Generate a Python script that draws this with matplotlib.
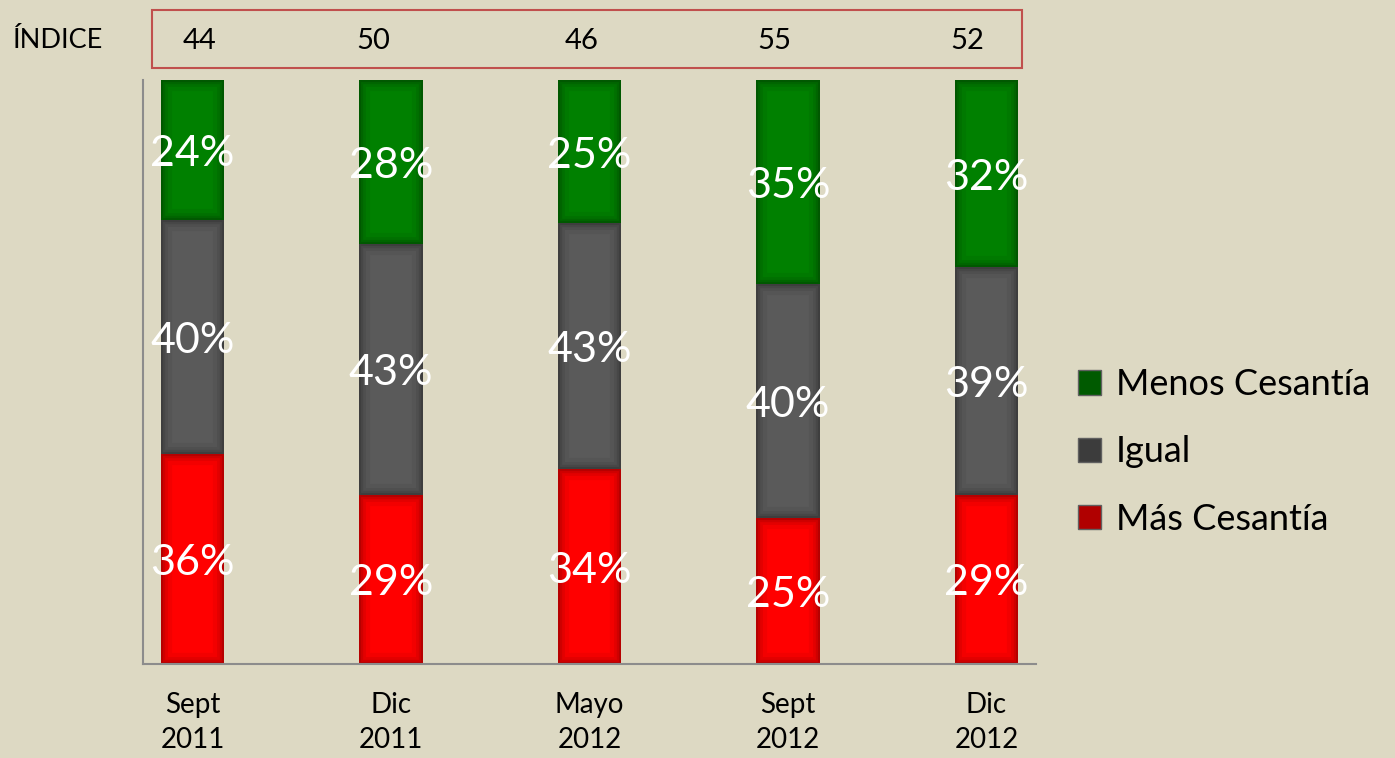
import matplotlib
matplotlib.use("Agg")
import matplotlib.pyplot as plt
import numpy as np
from matplotlib.patches import Rectangle, Patch

plt.rcParams['font.family'] = ['Lato', 'DejaVu Sans']

categories = ["Sept\n2011", "Dic\n2011", "Mayo\n2012", "Sept\n2012", "Dic\n2012"]
mas_cesantia = [36, 29, 34, 25, 29]
igual = [40, 43, 43, 40, 39]
menos_cesantia = [24, 28, 25, 35, 32]
indice = [44, 50, 46, 55, 52]
indice_x_px = [200, 373, 582, 774, 967]  # layout positions of the index cells

bg = "#DDD9C3"
W, H = 1395, 758
fig = plt.figure(figsize=(13.95, 7.58), dpi=100, facecolor=bg)
ax = fig.add_axes([143/W, 1-664/H, (1036-143)/W, (664-80)/H])
ax.set_facecolor(bg)

x = np.arange(len(categories))
m = np.array(mas_cesantia, float)
g = np.array(igual, float)
v = np.array(menos_cesantia, float)
tot = m + g + v
mn, gn, vn = m/tot*100, g/tot*100, v/tot*100

w = 0.32
series = [
    (mn, mas_cesantia, np.zeros(5), "#FF0000", "#8A0000"),
    (gn, igual, mn, "#5A5A5A", "#2E2E2E"),
    (vn, menos_cesantia, mn+gn, "#008000", "#004200"),
]
for vals, raw, bottom, col, ec in series:
    bars = ax.bar(x, vals, w, bottom=bottom, color=col, edgecolor='none', zorder=2)
    # inner shadow effect
    for lw, a in [(16, 0.10), (10, 0.15), (6, 0.22), (3, 0.35)]:
        edges = ax.bar(x, vals, w, bottom=bottom, fill=False, edgecolor=ec, linewidth=lw, alpha=a, zorder=2.1)
        for e, b in zip(edges, bars):
            e.set_clip_path(b)
    for xi, b, h, r in zip(x, bottom, vals, raw):
        ax.annotate(f"{r}%", xy=(xi, b + h/2), xytext=(0, -3), textcoords='offset points',
                    ha='center', va='center', color='white', fontsize=31, zorder=3)

ax.set_xlim(-0.25, 4.25)
ax.set_ylim(0, 100)
ax.set_yticks([])
ax.set_xticks([])
for s in ['top', 'right']:
    ax.spines[s].set_visible(False)
for s in ['left', 'bottom']:
    ax.spines[s].set_color('#8C8C8C')
    ax.spines[s].set_linewidth(1.5)

# category labels
for xi, c in zip(x, categories):
    ax.annotate(c, xy=(xi, 0), xycoords='data', xytext=(0, -20), textcoords='offset points',
                ha='center', va='top', fontsize=20, linespacing=1.45, color='black')

# index row
for px, iv in zip(indice_x_px, indice):
    fig.text(px/W, 1-41/H, str(iv), ha='center', va='center', fontsize=21)
fig.text(57/W, 1-41/H, "ÍNDICE", ha='center', va='center', fontsize=19.5)
fig.patches.append(Rectangle((152/W, 1-68/H), (1022-152)/W, 58/H, transform=fig.transFigure,
                             fill=False, edgecolor='#C0504D', linewidth=1.5))

handles = [Patch(facecolor="#005A00", edgecolor="#606060"),
           Patch(facecolor="#3C3C3C", edgecolor="#606060"),
           Patch(facecolor="#B00000", edgecolor="#606060")]
labels = ["Menos Cesantía", "Igual", "Más Cesantía"]
fig.legend(handles, labels, loc='center left', bbox_to_anchor=(1078/W, 1-452/H), frameon=False,
           fontsize=26, handlelength=0.65, handleheight=0.65, handletextpad=0.4, labelspacing=0.95,
           borderaxespad=0, borderpad=0)

fig.savefig("out.png", dpi=100, facecolor=bg)
